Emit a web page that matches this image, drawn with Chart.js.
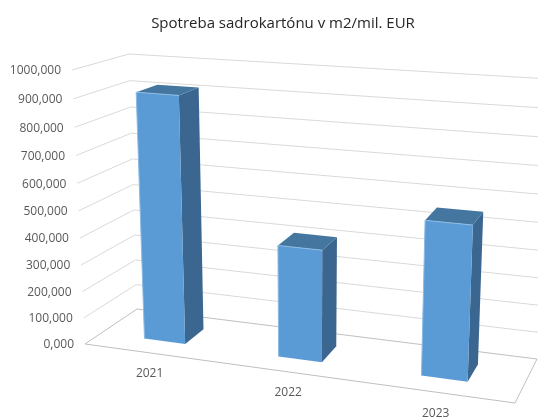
<!DOCTYPE html>
<html>
<head>
<meta charset="utf-8">
<script src="https://cdn.jsdelivr.net/npm/chart.js@4"></script>
<style>
  html, body { margin: 0; padding: 0; background: #fff; }
  canvas { display: block; }
</style>
</head>
<body>
<canvas id="mycanvas" width="538" height="417"></canvas>
<script>
var categories = ["2021", "2022", "2023"];
var consumption = [915, 412, 555];
var chartTitle = "Spotreba sadrokartónu v m2/mil. EUR";

// corners of the 3d box as seen on screen: [bottom left, top left, top right, bottom right]
var frontQuad = [[85, 344], [72, 70], [528, 104], [515, 403]];
var backQuad = [[137, 309], [129, 54], [550, 79], [537, 359]];
var barFront = 0.32, barBack = 0.72;
var uShift = -0.004;

// unit square -> quad
function homography(q) {
  var x0 = q[0][0], y0 = q[0][1], x1 = q[3][0], y1 = q[3][1];
  var x2 = q[2][0], y2 = q[2][1], x3 = q[1][0], y3 = q[1][1];
  var sx = x0 - x1 + x2 - x3, sy = y0 - y1 + y2 - y3;
  var dx1 = x1 - x2, dx2 = x3 - x2, dy1 = y1 - y2, dy2 = y3 - y2;
  var den = dx1 * dy2 - dx2 * dy1;
  var g = (sx * dy2 - dx2 * sy) / den, h = (dx1 * sy - sx * dy1) / den;
  var a = x1 - x0 + g * x1, b = x3 - x0 + h * x3;
  var d = y1 - y0 + g * y1, e = y3 - y0 + h * y3;
  return function (u, v) {
    var w = g * u + h * v + 1;
    return [(a * u + b * v + x0) / w, (d * u + e * v + y0) / w];
  };
}
var toFront = homography(frontQuad), toBack = homography(backQuad);

function project(u, v, depth) {
  var f = toFront(u, v), b = toBack(u, v);
  return [f[0] + (b[0] - f[0]) * depth, f[1] + (b[1] - f[1]) * depth];
}

function polyline(ctx, pts, color) {
  ctx.strokeStyle = color;
  ctx.lineWidth = 1;
  ctx.beginPath();
  pts.forEach(function (p, i) { i ? ctx.lineTo(p[0], p[1]) : ctx.moveTo(p[0], p[1]); });
  ctx.stroke();
}

function face(ctx, pts, color) {
  ctx.fillStyle = color;
  ctx.beginPath();
  pts.forEach(function (p, i) { i ? ctx.lineTo(p[0], p[1]) : ctx.moveTo(p[0], p[1]); });
  ctx.closePath();
  ctx.fill();
}

var perspective = {
  id: "perspective",
  beforeDatasetsDraw: function (chart) {
    var ctx = chart.ctx, area = chart.chartArea;
    var xs = chart.scales.x, ys = chart.scales.y;
    function vOf(val) { return (area.bottom - ys.getPixelForValue(val)) / area.height; }

    ctx.save();
    ctx.font = "12px 'Open Sans'";
    ctx.fillStyle = "#595959";
    ctx.textBaseline = "middle";
    ctx.textAlign = "right";
    ys.ticks.forEach(function (t) {
      var v = vOf(t.value);
      var color = t.value === 0 ? "#bfbfbf" : "#d9d9d9";
      polyline(ctx, [project(0, v, 0), project(0, v, 1), project(1, v, 1)], color);
      var p = project(0, v, 0);
      ctx.fillText(t.label, p[0] - 11, p[1] + 1);
    });
    polyline(ctx, [project(0, 0, 0), project(1, 0, 0), project(1, 0, 1)], "#bfbfbf");

    ctx.textAlign = "center";
    categories.forEach(function (c, i) {
      var u = (xs.getPixelForValue(i) - area.left) / area.width + uShift;
      var p = project(u, 0, 0);
      ctx.fillText(c, p[0], p[1] + 21);
    });
    ctx.restore();
  },
  // the stock flat bars are replaced by the projected ones
  beforeDatasetDraw: function (chart, args) {
    var ctx = chart.ctx, area = chart.chartArea;
    args.meta.data.forEach(function (bar) {
      var l = (bar.x - bar.width / 2 - area.left) / area.width + uShift;
      var r = (bar.x + bar.width / 2 - area.left) / area.width + uShift;
      var t = (area.bottom - bar.y) / area.height;
      var b = (area.bottom - bar.base) / area.height;
      var fl = project(l, t, barFront), fr = project(r, t, barFront);
      var flb = project(l, b, barFront), frb = project(r, b, barFront);
      var bl = project(l, t, barBack), br = project(r, t, barBack);
      var brb = project(r, b, barBack);
      face(ctx, [fr, br, brb, frb], "#3a6690");
      face(ctx, [fl, bl, br, fr], "#44769f");
      face(ctx, [fl, fr, frb, flb], bar.options.backgroundColor);
      polyline(ctx, [flb, fl, fr], "#8dbbe4");
    });
    return false;
  }
};

new Chart(document.getElementById("mycanvas"), {
  type: "bar",
  data: {
    labels: categories,
    datasets: [{
      label: chartTitle,
      data: consumption,
      backgroundColor: "#5b9bd5",
      categoryPercentage: 1,
      barPercentage: 0.31
    }]
  },
  options: {
    responsive: false,
    animation: false,
    layout: { padding: { left: 28 } },
    plugins: {
      legend: { display: false },
      tooltip: { enabled: false },
      title: {
        display: true,
        text: chartTitle,
        color: "#262626",
        font: { family: "'Open Sans'", size: 15, weight: "normal" },
        padding: { top: 15, bottom: 10 }
      }
    },
    scales: {
      x: { grid: { display: false }, border: { display: false }, ticks: { display: false } },
      y: {
        min: 0,
        max: 1000,
        grid: { display: false },
        border: { display: false },
        ticks: {
          display: false,
          stepSize: 100,
          callback: function (v) { return v.toFixed(3).replace(".", ","); }
        }
      }
    }
  },
  plugins: [perspective]
});
</script>
</body>
</html>
